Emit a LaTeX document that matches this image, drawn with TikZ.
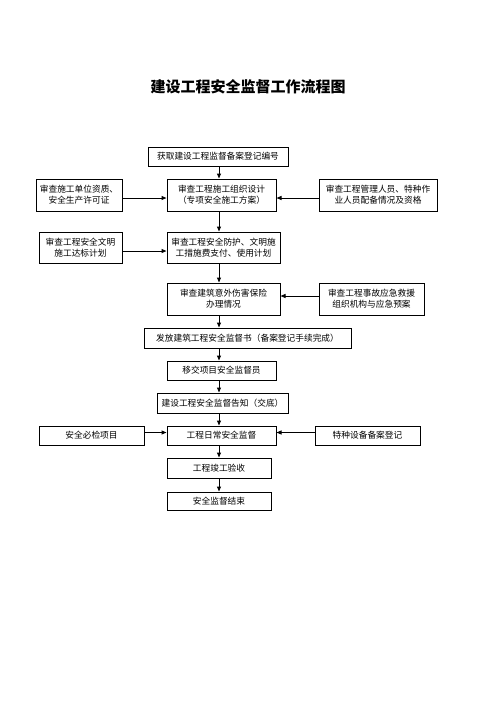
\documentclass[tikz,border=0pt]{standalone}
\usepackage{fontspec}
\setmainfont{Noto Sans CJK SC}
\usetikzlibrary{arrows.meta}
\begin{document}
\begin{tikzpicture}[x=1pt,y=-1pt,
  box/.style={draw=black,line width=1pt,rectangle,inner sep=1pt,align=center,
    font=\fontsize{8.7}{11}\selectfont,text=black},
  arr/.style={line width=1pt,-{Triangle[length=5pt,width=4pt]}}]
\useasboundingbox (0,0) rectangle (496,702);
\node[font=\fontsize{15}{18}\selectfont\bfseries] (title) at (248,87) {建设工程安全监督工作流程图};
\coordinate (vx) at (219,0);
\node[box,minimum width=140pt,minimum height=19pt] (c1) at (218,156.5) {获取建设工程监督备案登记编号};
\node[box,minimum width=109pt,minimum height=32pt] (c2) at (221.5,195) {审查工程施工组织设计\\（专项安全施工方案）};
\node[box,minimum width=86pt,minimum height=32pt] (l1) at (79,195) {审查施工单位资质、\\安全生产许可证};
\node[box,minimum width=118pt,minimum height=32pt] (r1) at (378,195) {审查工程管理人员、特种作\\业人员配备情况及资格};
\node[box,minimum width=113pt,minimum height=31pt] (c3) at (223.5,247.5) {审查工程安全防护、文明施\\工措施费支付、使用计划};
\node[box,minimum width=83pt,minimum height=31pt] (l2) at (80.5,247.5) {审查工程安全文明\\施工达标计划};
\node[box,minimum width=113pt,minimum height=32pt] (c4) at (223.5,299) {审查建筑意外伤害保险\\办理情况};
\node[box,minimum width=105pt,minimum height=32pt] (r2) at (371.5,299) {审查工程事故应急救援\\组织机构与应急预案};
\node[box,minimum width=207pt,minimum height=20pt] (c5) at (247.5,338) {发放建筑工程安全监督书（备案登记手续完成）};
\node[box,minimum width=109pt,minimum height=19pt] (c6) at (221.5,370.5) {移交项目安全监督员};
\node[box,minimum width=131pt,minimum height=20pt] (c7) at (222.5,403) {建设工程安全监督告知（交底）};
\node[box,minimum width=109pt,minimum height=19pt] (c8) at (221.5,435.5) {工程日常安全监督};
\node[box,minimum width=105pt,minimum height=19pt] (l3) at (91.5,435.5) {安全必检项目};
\node[box,minimum width=105pt,minimum height=19pt] (r3) at (367.5,435.5) {特种设备备案登记};
\node[box,minimum width=104pt,minimum height=20pt] (c9) at (219,468) {工程竣工验收};
\node[box,minimum width=104pt,minimum height=18pt] (c10) at (219,501) {安全监督结束};
% vertical arrows
\foreach \a/\b in {c1/c2,c2/c3,c3/c4,c4/c5,c5/c6,c6/c7,c7/c8,c8/c9,c9/c10}
  \draw[arr] (\a.south -| vx) -- (\b.north -| vx);
% horizontal arrows
\draw[arr] ([yshift=-3pt]l1.east) -- ([yshift=-3pt]c2.west);
\draw[arr] ([yshift=-3pt]r1.west) -- ([yshift=-3pt]c2.east);
\draw[arr] ([yshift=-3.5pt]l2.east) -- ([yshift=-3.5pt]c3.west);
\draw[arr] ([yshift=3pt]r2.west) -- ([yshift=3pt]c4.east);
\draw[arr] ([yshift=3pt]l3.east) -- ([yshift=3pt]c8.west);
\draw[arr] ([yshift=3pt]r3.west) -- ([yshift=3pt]c8.east);
\end{tikzpicture}
\end{document}
